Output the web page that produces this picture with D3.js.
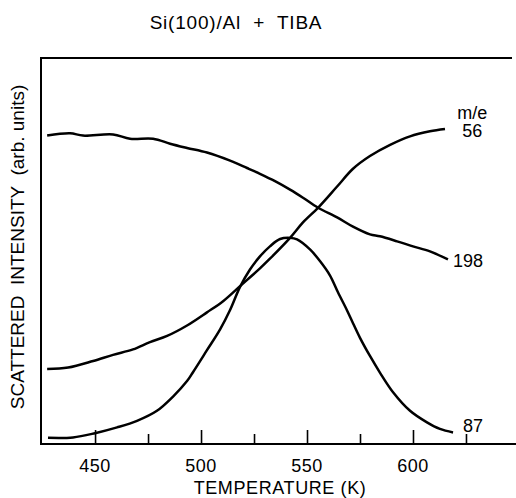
<!DOCTYPE html>
<html>
<head>
<meta charset="utf-8">
<script src="https://cdn.jsdelivr.net/npm/d3@7"></script>
<style>
  body { margin: 0; background: #fff; }
  svg { display: block; font-family: "Liberation Sans", Arial, sans-serif; }
</style>
</head>
<body>
<div id="chart"></div>
<script>
// data: temperature (K) and intensity (arb. units, 0-100)
var temp198 = [427.4, 438.2, 444.3, 458.5, 466.5, 477.4, 485.4, 493.4, 502.8, 513.7, 521.7, 527.8, 534.9, 542.0, 548.1, 555.2, 564.2, 571.7, 579.7, 584.4, 592.5, 600.0, 608.0, 616.5];
var int198  = [79.9, 80.5, 79.9, 80.2, 79.1, 79.1, 77.8, 76.7, 75.5, 73.4, 71.5, 70.0, 68.1, 65.9, 63.8, 61.2, 58.7, 56.3, 54.3, 53.8, 52.5, 51.2, 49.9, 47.8];

var temp56 = [427.4, 437.3, 449.1, 458.5, 467.9, 475.9, 484.0, 493.4, 502.8, 510.4, 518.4, 527.8, 532.5, 542.0, 548.1, 555.2, 564.2, 571.7, 579.7, 589.2, 598.6, 608.0, 615.1];
var int56  = [19.4, 19.8, 21.5, 23.1, 24.5, 26.4, 28.0, 30.7, 34.1, 37.0, 40.9, 45.5, 48.0, 53.4, 57.4, 61.2, 66.7, 71.3, 74.6, 77.5, 79.7, 81.0, 81.6];

var temp87 = [427.8, 439.6, 450.0, 460.4, 469.8, 479.2, 486.8, 493.4, 496.2, 502.8, 509.0, 513.7, 518.4, 523.1, 527.8, 532.5, 537.3, 542.0, 545.3, 551.4, 556.1, 560.8, 564.6, 568.9, 571.7, 575.0, 579.7, 584.4, 590.6, 598.6, 606.6, 612.7, 618.9];
var int87  = [1.6, 1.7, 2.8, 4.3, 6.0, 8.6, 12.3, 16.3, 18.6, 24.3, 29.7, 34.7, 40.7, 45.2, 48.6, 51.2, 53.1, 53.4, 53.0, 50.4, 47.4, 43.7, 39.3, 34.6, 31.3, 27.5, 22.8, 18.5, 13.4, 8.6, 5.6, 3.9, 3.0];

var majorTicks = [450, 500, 550, 600];
var minorTicks = [475, 525, 575, 625];

// curve labels: [text, temperature, intensity]
var curveLabels = [["m/e", 628, 85.8], ["56", 628, 81.0], ["198", 626, 47.3], ["87", 628.3, 4.7]];

var width = 516, height = 498;
var margin = {left: 41, right: 516, top: 58, bottom: 444};

var svg = d3.select("#chart").append("svg")
    .attr("width", width)
    .attr("height", height);

var x = d3.scaleLinear().domain([424.5, 648.6]).range([margin.left, margin.right]);
var y = d3.scaleLinear().domain([0, 100]).range([margin.bottom, margin.top]);

// frame: top, left, bottom
svg.append("path")
    .attr("d", "M" + (margin.right - 4) + "," + margin.top + "H" + margin.left +
               "V" + margin.bottom + "H" + margin.right)
    .attr("fill", "none")
    .attr("stroke", "#000")
    .attr("stroke-width", 2);

// ticks point up into the plot
var xAxis = svg.append("g")
    .attr("transform", "translate(0," + margin.bottom + ")")
    .call(d3.axisTop(x).tickValues(majorTicks).tickSize(14).tickFormat(""));
xAxis.select(".domain").remove();
xAxis.selectAll("line").attr("stroke-width", 1.6);

var xMinor = svg.append("g")
    .attr("transform", "translate(0," + margin.bottom + ")")
    .call(d3.axisTop(x).tickValues(minorTicks).tickSize(10).tickFormat(""));
xMinor.select(".domain").remove();
xMinor.selectAll("line").attr("stroke-width", 1.6);

svg.selectAll(".xlab")
    .data(majorTicks)
    .enter().append("text")
    .attr("class", "xlab")
    .attr("x", function(d) { return x(d); })
    .attr("y", 472)
    .attr("text-anchor", "middle")
    .style("font-size", "18px")
    .style("letter-spacing", "0.5px")
    .text(function(d) { return d; });

// titles
svg.append("text")
    .attr("x", 236).attr("y", 29)
    .attr("text-anchor", "middle")
    .style("font-size", "19px")
    .style("letter-spacing", "0.8px")
    .style("white-space", "pre")
    .text("Si(100)/Al  +  TIBA");

svg.append("text")
    .attr("x", 280).attr("y", 494)
    .attr("text-anchor", "middle")
    .style("font-size", "18px")
    .style("letter-spacing", "0.6px")
    .text("TEMPERATURE (K)");

svg.append("text")
    .attr("transform", "translate(24,247) rotate(-90)")
    .attr("text-anchor", "middle")
    .style("font-size", "19px")
    .style("white-space", "pre")
    .text("SCATTERED  INTENSITY  (arb. units)");

// curves
var line = d3.line()
    .x(function(d) { return x(d[0]); })
    .y(function(d) { return y(d[1]); })
    .curve(d3.curveCatmullRom);

[[temp198, int198], [temp56, int56], [temp87, int87]].forEach(function(s) {
  svg.append("path")
      .datum(d3.zip(s[0], s[1]))
      .attr("d", line)
      .attr("fill", "none")
      .attr("stroke", "#000")
      .attr("stroke-width", 2.5);
});

svg.selectAll(".clab")
    .data(curveLabels)
    .enter().append("text")
    .attr("class", "clab")
    .attr("x", function(d) { return x(d[1]); })
    .attr("y", function(d) { return y(d[2]) + 6; })
    .attr("text-anchor", "middle")
    .style("font-size", "18px")
    .text(function(d) { return d[0]; });
</script>
</body>
</html>
